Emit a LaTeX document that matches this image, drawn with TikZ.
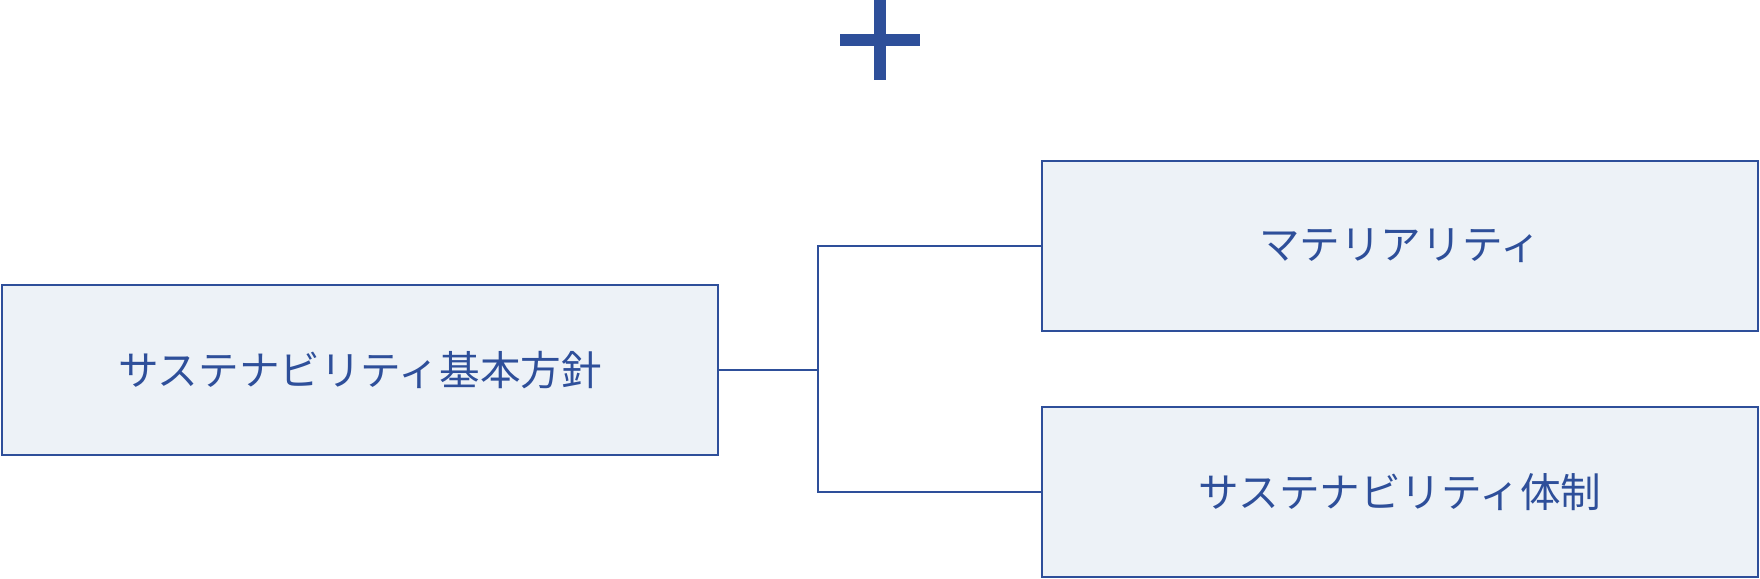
\documentclass[tikz,border=0pt]{standalone}
\usepackage{fontspec}
\newfontfamily\jpfont{Noto Sans CJK JP}
\definecolor{navy}{HTML}{2E4F9A}
\definecolor{pale}{HTML}{EDF2F7}
\begin{document}
\begin{tikzpicture}[x=0.5pt,y=-0.5pt,
  box/.style={draw=navy,fill=pale,line width=1pt,minimum width=358pt,minimum height=85pt,inner sep=0pt,
    font=\jpfont\fontsize{20.3pt}{24pt}\selectfont,text=navy},
  link/.style={draw=navy,line width=1pt}]
\useasboundingbox (0,0) rectangle (1760,578);
\fill[navy] (874,0) rectangle (886,80);
\fill[navy] (840,34) rectangle (920,46);
\node[box] (base) at (360,370) {\raisebox{-1pt}{サステナビリティ基本方針}};
\node[box] (mat) at (1400,246) {\raisebox{-1pt}{マテリアリティ}};
\node[box] (sys) at (1400,492) {\raisebox{-1pt}{サステナビリティ体制}};
\coordinate (j) at (818,370);
\draw[link] (base.east) -- (j);
\draw[link] (mat.west) -| (j) |- (sys.west);
\end{tikzpicture}
\end{document}
